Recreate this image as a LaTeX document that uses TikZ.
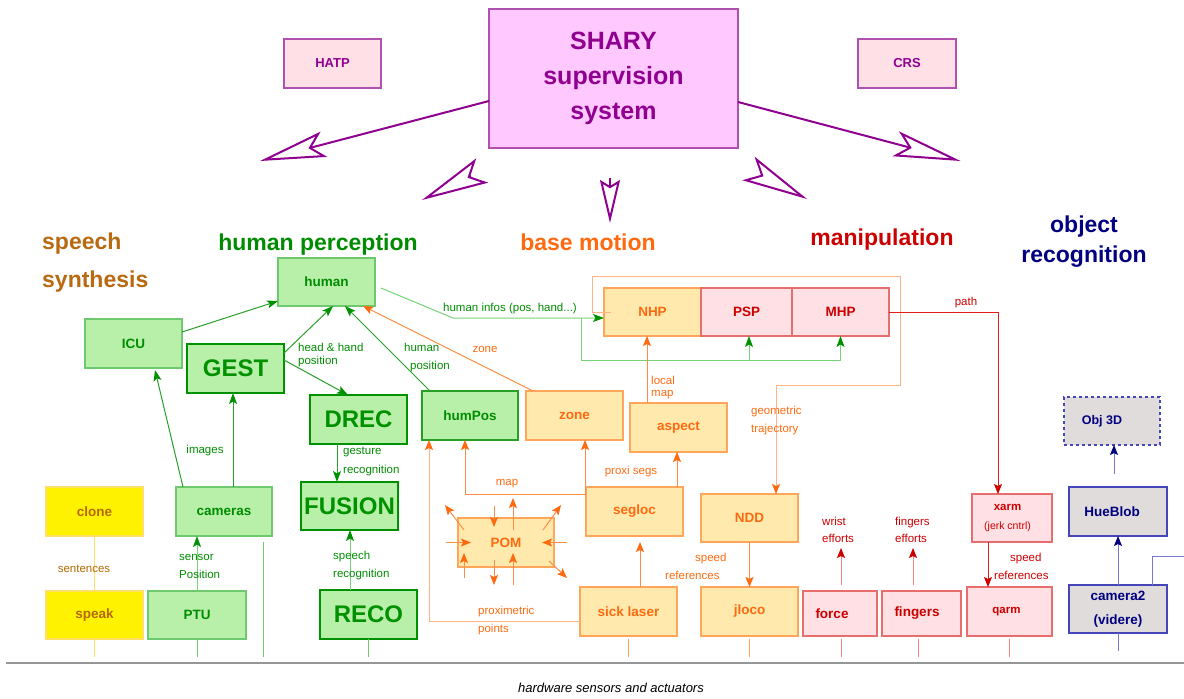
\documentclass[tikz,border=0pt]{standalone}
\usepackage{fontspec}
\setmainfont{Liberation Sans}
\usetikzlibrary{arrows.meta,calc}
\definecolor{gfill}{RGB}{184,240,170}
\definecolor{gline}{RGB}{110,200,110}
\definecolor{gdark}{RGB}{0,145,0}
\definecolor{gtext}{RGB}{0,140,0}
\definecolor{gconn}{RGB}{40,160,40}
\definecolor{gbusc}{RGB}{120,210,120}
\definecolor{ofill}{RGB}{255,233,173}
\definecolor{oborder}{RGB}{255,166,90}
\definecolor{otext}{RGB}{255,106,16}
\definecolor{oconn}{RGB}{255,140,70}
\definecolor{olight}{RGB}{255,180,130}
\definecolor{rfill}{RGB}{255,224,228}
\definecolor{rborder}{RGB}{232,110,110}
\definecolor{rtext}{RGB}{204,0,0}
\definecolor{rconn}{RGB}{225,30,30}
\definecolor{rlight}{RGB}{240,130,130}
\definecolor{yborder}{RGB}{255,224,100}
\definecolor{ytext}{RGB}{180,105,0}
\definecolor{bfill}{RGB}{224,220,220}
\definecolor{bborder}{RGB}{70,70,185}
\definecolor{btext}{RGB}{0,0,128}
\definecolor{bconn}{RGB}{120,120,210}
\definecolor{pfill}{RGB}{255,200,255}
\definecolor{pfilltwo}{RGB}{255,224,230}
\definecolor{pborder}{RGB}{176,80,176}
\definecolor{ptext}{RGB}{144,0,144}
\definecolor{sbrown}{RGB}{185,105,15}
\definecolor{hwgray}{RGB}{150,150,150}
\begin{document}
\begin{tikzpicture}[x=1pt,y=-1pt,
  box/.style={rectangle, inner sep=0pt, outer sep=0pt, align=center, font=\fontsize{13.5}{16}\selectfont\bfseries},
  gbox/.style={box, fill=gfill, draw=gline, line width=1.2pt, text=gtext},
  gbig/.style={box, fill=gfill, draw=gdark, line width=2.6pt, text=gdark, font=\fontsize{24}{28}\selectfont\bfseries},
  obox/.style={box, fill=ofill, draw=oborder, line width=1.3pt, text=otext},
  rbox/.style={box, fill=rfill, draw=rborder, line width=1.3pt, text=rtext},
  ybox/.style={box, fill=yellow, draw=yborder, line width=1.3pt, text=ytext},
  bbox/.style={box, fill=bfill, draw=bborder, line width=1.3pt, text=btext},
  pbox/.style={box, fill=pfilltwo, draw=pborder, line width=1.3pt, text=ptext, font=\fontsize{13}{16}\selectfont\bfseries},
  title/.style={inner sep=0pt, font=\fontsize{23}{28}\selectfont\bfseries},
  lbl/.style={inner sep=0pt, font=\fontsize{11.5}{18}\selectfont, align=left},
  ga/.style={draw=gconn, line width=1pt, -{Stealth[length=11pt,width=8pt,inset=2.5pt,color=gdark]}},
  gb/.style={draw=gbusc, line width=1pt, -{Stealth[length=11pt,width=8pt,inset=2.5pt,color=gdark]}},
  oa/.style={draw=oconn, line width=1pt, -{Stealth[length=10pt,width=8pt,inset=2pt,color=otext]}},
  ola/.style={draw=olight, line width=1pt, -{Stealth[length=10pt,width=8pt,inset=2pt,color=otext]}},
  ra/.style={draw=rconn, line width=1pt, -{Stealth[length=10pt,width=8pt,inset=2pt,color=rtext]}},
  rla/.style={draw=rlight, line width=1pt, -{Stealth[length=10pt,width=8pt,inset=2pt,color=rtext]}},
  ba/.style={draw=bconn, line width=1pt, -{Stealth[length=10pt,width=8pt,inset=2pt,color=btext]}},
  hw/.style={line width=1pt}
]
\useasboundingbox (0,0) rectangle (1184,699);

% supervision
\node[box, fill=pfill, draw=pborder, line width=1.3pt, text=ptext, font=\fontsize{25}{35}\selectfont\bfseries, minimum width=249pt, minimum height=139pt] (shary) at (613.5,78.5) {SHARY\\supervision\\system};
\node[pbox, minimum width=97pt, minimum height=49pt] (hatp) at (332.5,63.5) {HATP};
\node[pbox, minimum width=98pt, minimum height=49pt] (crs) at (907,63.5) {CRS};

% section titles
\node[title, text=sbrown, align=left, anchor=west, font=\fontsize{23}{38}\selectfont\bfseries] (t-speech) at (42,263) {speech\\synthesis};
\node[title, text=gtext, anchor=base] (t-human) at (318,250) {human perception};
\node[title, text=otext, anchor=base] (t-base) at (588,250) {base motion};
\node[title, text=rtext, anchor=base] (t-manip) at (882,245) {manipulation};
\node[title, text=btext, align=center, font=\fontsize{23}{30}\selectfont\bfseries] (t-obj) at (1084,242) {object\\recognition};

% big supervision arrows
\coordinate (a1tip) at (260,161);
\coordinate (a2tail) at (471,176);
\coordinate (a2tip) at (422,200);
\coordinate (a3tail) at (610,178);
\coordinate (a3tip) at (610,223);
\coordinate (a4tail) at (761,175);
\coordinate (a4tip) at (807,199);
\coordinate (a5tip) at (960.6,161);
\draw[draw=ptext, line width=2pt, -{Stealth[open,length=66pt,width=26pt,inset=13pt]}] ([yshift=-22.5pt]shary.west) -- (a1tip);
\draw[draw=ptext, line width=2pt, -{Stealth[open,length=67pt,width=27pt,inset=13.5pt]}] (a2tail) -- (a2tip);
\draw[draw=ptext, line width=2pt, -{Stealth[open,length=43pt,width=20pt,inset=6pt]}] (a3tail) -- (a3tip);
\draw[draw=ptext, line width=2pt, -{Stealth[open,length=66pt,width=26.5pt,inset=14pt]}] (a4tail) -- (a4tip);
\draw[draw=ptext, line width=2pt, -{Stealth[open,length=67pt,width=25.6pt,inset=13.5pt]}] ([yshift=-23.5pt]shary.east) -- (a5tip);

% human perception nodes
\node[gbox, minimum width=97pt, minimum height=48pt] (human) at (326.5,282) {human};
\node[gbox, minimum width=97pt, minimum height=49pt] (icu) at (133.5,343.5) {ICU};
\node[gbig, minimum width=97pt, minimum height=49pt] (gest) at (235.5,368.5) {GEST};
\node[gbig, minimum width=97pt, minimum height=49pt] (drec) at (358.5,419.5) {DREC};
\node[gbig, minimum width=97pt, minimum height=48pt] (fusion) at (349.5,506) {FUSION};
\node[gbig, minimum width=97pt, minimum height=49pt] (reco) at (368.5,614.5) {RECO};
\node[gbox, minimum width=96pt, minimum height=49pt] (cameras) at (224,511.5) {cameras};
\node[gbox, minimum width=98pt, minimum height=48pt] (ptu) at (197,615) {PTU};
\node[gbox, draw=gconn, line width=1.4pt, minimum width=96pt, minimum height=49pt] (humpos) at (470,415.5) {humPos};

% speech synthesis
\node[ybox, minimum width=97pt, minimum height=49pt] (clone) at (94.5,511.5) {clone};
\node[ybox, minimum width=97pt, minimum height=48pt] (speak) at (94.5,615) {speak};

% base motion
\node[obox, minimum width=97pt, minimum height=49pt] (zone) at (574.5,415.5) {zone};
\node[obox, minimum width=97pt, minimum height=49pt] (aspect) at (678.5,427.5) {aspect};
\node[obox, minimum width=97pt, minimum height=48pt] (nhp) at (652.5,312) {NHP};
\node[rbox, minimum width=91pt, minimum height=48pt] (psp) at (746.5,312) {PSP};
\node[rbox, minimum width=97pt, minimum height=48pt] (mhp) at (840.5,312) {MHP};
\node[obox, minimum width=97pt, minimum height=49pt] (segloc) at (634.5,511.5) {segloc};
\node[obox, minimum width=96pt, minimum height=49pt] (pom) at (506,542.5) {POM};
\node[obox, minimum width=97pt, minimum height=49pt] (sick) at (628.5,611.5) {sick laser};
\node[obox, minimum width=97pt, minimum height=48pt] (ndd) at (749.5,518) {NDD};
\node[obox, minimum width=97pt, minimum height=49pt] (jloco) at (749.5,611.5) {jloco};

% manipulation
\node[rbox, minimum width=74pt, minimum height=45pt] (force) at (840,613.5) {force\hspace*{16pt}};
\node[rbox, minimum width=79pt, minimum height=45pt] (fingers) at (921.5,613.5) {fingers\hspace*{9pt}};
\node[rbox, font=\fontsize{11.5}{16}\selectfont\bfseries, minimum width=85pt, minimum height=49pt] (qarm) at (1009.5,611.5) {qarm\hspace*{6pt}};
\node[rbox, font=\fontsize{11.5}{19}\selectfont\bfseries, minimum width=80pt, minimum height=48pt] (xarm) at (1012,518) {xarm\hspace*{9pt}\\{\fontsize{10.5}{19}\selectfont\mdseries (jerk cntrl)\hspace*{9pt}}};

% object recognition
\node[bbox, minimum width=98pt, minimum height=49pt] (hueblob) at (1118,511.5) {HueBlob\hspace*{12pt}};
\node[bbox, font=\fontsize{13.5}{24}\selectfont\bfseries, minimum width=98pt, minimum height=48pt] (camera2) at (1118,609) {camera2\\(videre)};
\node[bbox, dashed, font=\fontsize{12.5}{16}\selectfont\bfseries, minimum width=96pt, minimum height=48pt] (obj3d) at (1112,421) {Obj 3D\hspace*{20pt}};

% green connectors
\draw[ga] ([yshift=11.5pt]icu.east) -- ([yshift=-19pt]human.west);
\draw[ga] ([yshift=-9pt]gest.north east) -- ([xshift=6.5pt]human.south);
\draw[ga] ([yshift=-16pt]gest.north east) -- ([xshift=-10.5pt]drec.north);
\draw[ga] ([xshift=8pt]humpos.north west) -- ([xshift=18.5pt]human.south);
\draw[ga] ([xshift=7pt]cameras.north west) -- ([xshift=21.5pt,yshift=-2pt]icu.south);
\draw[ga] ([xshift=9pt]cameras.north) -- ([xshift=9pt]cameras.north |- gest.south);
\draw[ga] ([xshift=-21.5pt]drec.south) -- ([xshift=-21.5pt]drec.south |- fusion.north);
\draw[gb] ([xshift=-18.5pt]reco.north) -- ([xshift=-18.5pt]reco.north |- fusion.south);
\draw[gb] (ptu.north) -- (ptu.north |- cameras.south);
\draw[gb] ([xshift=6pt,yshift=-6pt]human.east) -- ++(72,30) -- ([yshift=-6pt]nhp.west);
\coordinate (bus) at (581,318);
\draw[gb] (bus) |- ($(mhp.south)+(0,24)$) -- (mhp.south);
\draw[gb] ($(psp.south)+(2.5,24)$) -- ($(psp.south)+(2.5,0)$);

% orange connectors
\draw[oa] ([xshift=7pt]zone.north west) -- ([xshift=-12pt]human.south east);
\draw[oa] ([xshift=-31.5pt]aspect.north) -- ([xshift=-31.5pt]aspect.north |- nhp.south);
\draw[oa] ([xshift=42.5pt]segloc.north) -- ([xshift=42.5pt]segloc.north |- aspect.south);
\draw[oa] ([yshift=-7pt]segloc.north west) -| ([xshift=-5pt]humpos.south);
\draw[oa] ([xshift=-1pt,yshift=-7pt]segloc.north west) -- ([xshift=10.5pt]zone.south);
\draw[oa, shorten >=6pt] ([xshift=11.5pt]sick.north) -- ([xshift=11.5pt]sick.north |- segloc.south);
\draw[ola] ([yshift=-9.5pt]sick.west) -| ([xshift=7pt]humpos.south west);
\draw[oa] (ndd.south) -- (jloco.north);
\coordinate (f1) at (592,276);
\coordinate (f2) at (900,385);
\draw[ola] ([xshift=7pt]nhp.west) -| (f1) -| (f2) -| ([xshift=26.5pt]ndd.north);

% POM arrows
\foreach \a/\b/\c/\d in {-12/-36.5/-12/-15.5, 7/-12.5/7/-44.5, -42/-12.5/-61/-37.5, 37/-12.5/55/-37.5,
  -60/0/-35/0, 61/0/36/0, -42/35.5/-42/10.5, 7/42.5/7/10.5, -12/17.5/-12/42.5, 43/18.5/61/35.5}
  \draw[oa] ($(pom.center)+(\a,\b)$) -- ($(pom.center)+(\c,\d)$);

% red connectors
\draw[ra] (mhp.east) -| ([xshift=-14pt]xarm.north);
\draw[ra] ([xshift=-24pt]xarm.south) -- ([xshift=-24pt]xarm.south |- qarm.north);
\draw[rla] ([xshift=1pt,yshift=6pt]force.north) -- ++(0,-37);
\draw[rla] ([xshift=-8.5pt,yshift=6pt]fingers.north) -- ++(0,-37);

% blue connectors
\draw[ba] (camera2.north) -- (hueblob.south);
\draw[ba] ([xshift=-4pt,yshift=13pt]hueblob.north) -- ([xshift=2pt]obj3d.south);
\draw[draw=bconn, line width=1pt] ([xshift=-15pt]camera2.north east) |- ++(32,-29);

% speech
\draw[draw=yborder, line width=1.2pt] (clone.south) -- (speak.north);

% hardware stubs
\draw[hw, draw=yborder] (speak.south) -- ++(0,18);
\draw[hw, draw=gline] (ptu.south) -- ++(0,18);
\draw[hw, draw=gline] ([xshift=39pt,yshift=-6pt]cameras.south) -- ++(0,115);
\draw[hw, draw=gline] (reco.south) -- ++(0,18);
\draw[hw, draw=oborder] (sick.south) ++(0,3) -- ++(0,18);
\draw[hw, draw=oborder] (jloco.south) ++(0,3) -- ++(0,18);
\draw[hw, draw=rlight] (force.south) ++(1,3) -- ++(0,18);
\draw[hw, draw=rlight] (fingers.south) ++(-3.5,3) -- ++(0,18);
\draw[hw, draw=rlight] (qarm.south) ++(-0.5,3) -- ++(0,18);
\draw[hw, draw=bconn] (camera2.south) -- ++(0,18);

% labels
\node[lbl, text=gtext] (l-hi) at (510,309) {human infos (pos, hand...)};
\node[lbl, text=gtext, anchor=west, font=\fontsize{11.5}{12.5}\selectfont] (l-hh) at (298,355) {head \& hand\\position};
\node[lbl, text=gtext, anchor=west] (l-hp) at (404,357.5) {human\\\hspace*{6pt}position};
\node[lbl, text=gtext] (l-img) at (205,451) {images};
\node[lbl, text=gtext, anchor=west, font=\fontsize{11.5}{19}\selectfont] (l-gr) at (343,461.5) {gesture\\recognition};
\node[lbl, text=gtext, anchor=west] (l-sp) at (179,566) {sensor\\Position};
\node[lbl, text=gtext, anchor=west] (l-sr) at (333,566) {speech\\recognition};
\node[lbl, text=otext] (l-zone) at (485,349) {zone};
\node[lbl, text=otext, anchor=west, font=\fontsize{11.5}{12.5}\selectfont] (l-lm) at (651,387.5) {local\\map};
\node[lbl, text=otext, anchor=west] (l-gt) at (751,421) {geometric\\trajectory};
\node[lbl, text=otext] (l-map) at (507,484) {map};
\node[lbl, text=otext] (l-ps) at (631,472) {proxi segs};
\node[lbl, text=otext, anchor=west] (l-pp) at (478,621) {proximetric\\points};
\node[lbl, text=otext, anchor=west] (l-sr1) at (665,566) {\hspace*{30pt}speed\\references};
\node[lbl, text=rtext] (l-path) at (966,303) {path};
\node[lbl, text=rtext, anchor=west, font=\fontsize{11.5}{17}\selectfont] (l-we) at (822,529.5) {wrist\\efforts};
\node[lbl, text=rtext, anchor=west, font=\fontsize{11.5}{17}\selectfont] (l-fe) at (895,529.5) {fingers\\efforts};
\node[lbl, text=rtext, anchor=west] (l-sr2) at (994,566) {\hspace*{16pt}speed\\references};
\node[lbl, text=ytext] (l-sent) at (84,569) {sentences};

% hardware line
\coordinate (hr1) at (6,663);
\coordinate (hr2) at (1184,663);
\draw[draw=hwgray, line width=1.2pt] (hr1) -- (hr2);
\node[inner sep=0pt, anchor=base, font=\fontsize{13}{16}\selectfont\itshape] (hwlabel) at (611,692.5) {hardware sensors and actuators};
\end{tikzpicture}
\end{document}
